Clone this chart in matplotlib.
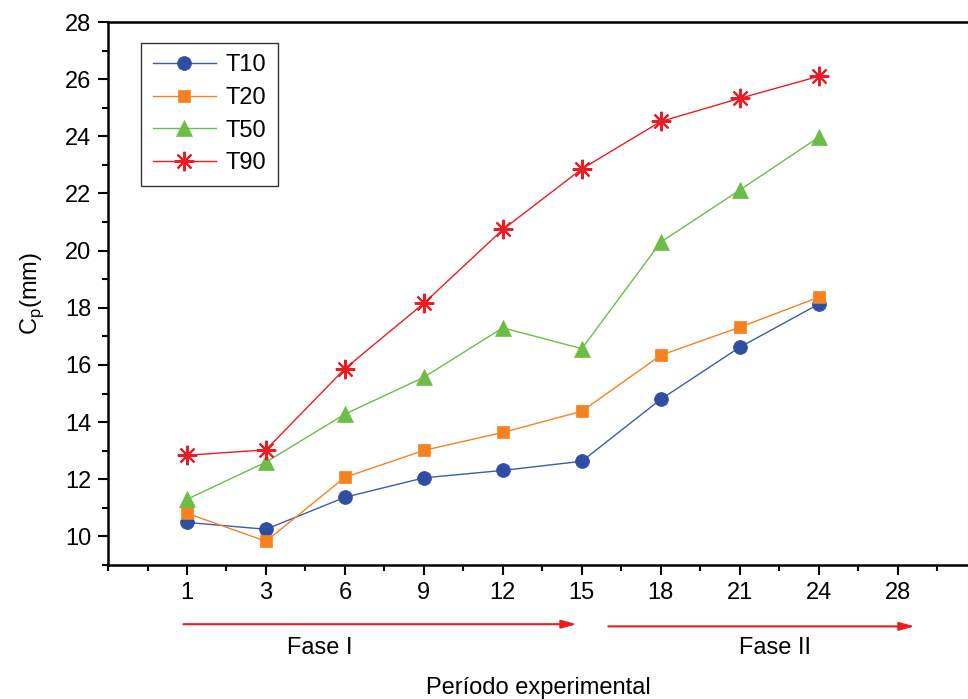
import matplotlib
matplotlib.use('Agg')
import matplotlib.pyplot as plt
from matplotlib.ticker import MultipleLocator

plt.rcParams.update({'font.family': ['Liberation Sans', 'DejaVu Sans']})

# data
periods = ['1', '3', '6', '9', '12', '15', '18', '21', '24', '28']
t10 = [10.49, 10.25, 11.37, 12.05, 12.31, 12.63, 14.80, 16.62, 18.13]
t20 = [10.81, 9.83, 12.07, 13.01, 13.64, 14.38, 16.34, 17.32, 18.37]
t50 = [11.30, 12.60, 14.28, 15.57, 17.30, 16.57, 20.30, 22.12, 23.97]
t90 = [12.84, 13.03, 15.87, 18.16, 20.74, 22.86, 24.52, 25.33, 26.10]
labels = ['T10', 'T20', 'T50', 'T90']

series = [t10, t20, t50, t90]
markers = ['o', 's', '^', (8, 2, 0)]
mcolors = ['#2f4ea3', '#f5821f', '#6cbd45', '#ed1c24']
lcolors = ['#3c5bb0', '#f5821f', '#6cbd45', '#ed1c24']
msizes = [10, 9, 12, 14]

fig = plt.figure(figsize=(9.68, 6.99), dpi=100)
ax = fig.add_axes([0.1116, 0.1917, 0.8884, 0.7768])

xs = list(range(1, len(t10) + 1))
for i, y in enumerate(series):
    ax.plot(xs, y, color=lcolors[i], lw=1.0, marker=markers[i],
            markersize=msizes[i], markerfacecolor=mcolors[i],
            markeredgecolor=mcolors[i], markeredgewidth=1.5 if i == 3 else 0.5,
            label=labels[i])

ax.set_xlim(0, 10.89)
ax.set_ylim(9, 28)
ax.set_xticks(range(1, len(periods) + 1))
ax.set_xticklabels(periods)
ax.xaxis.set_minor_locator(MultipleLocator(0.5))
ax.yaxis.set_minor_locator(MultipleLocator(1))
ax.set_yticks(range(10, 29, 2))
ax.tick_params(which='major', direction='out', length=7, width=1.5, labelsize=17, pad=5)
ax.tick_params(which='minor', direction='out', length=4, width=1.5)
ax.spines['right'].set_visible(False)
for s in ['left', 'bottom', 'top']:
    ax.spines[s].set_linewidth(1.8)

ax.set_ylabel('C$_\\mathregular{p}$(mm)', fontsize=17, labelpad=14)
ax.set_xlabel('Período experimental', fontsize=17, labelpad=53)

# phase arrows
arrow_kw = dict(arrowstyle='-|>,head_length=0.9,head_width=0.25', color='#ed1c24', lw=1.5)
ax.annotate('', xy=(5.97, -0.109), xytext=(0.92, -0.109),
            xycoords=('data', 'axes fraction'), textcoords=('data', 'axes fraction'),
            arrowprops=arrow_kw, annotation_clip=False)
ax.annotate('', xy=(10.25, -0.113), xytext=(6.30, -0.113),
            xycoords=('data', 'axes fraction'), textcoords=('data', 'axes fraction'),
            arrowprops=arrow_kw, annotation_clip=False)
ax.text(2.68, -0.153, 'Fase I', transform=ax.get_xaxis_transform(),
        ha='center', va='center', fontsize=17)
ax.text(8.44, -0.153, 'Fase II', transform=ax.get_xaxis_transform(),
        ha='center', va='center', fontsize=17)

leg = ax.legend(loc='upper left', bbox_to_anchor=(0.038, 0.962), fontsize=17,
                frameon=True, fancybox=False, edgecolor='black',
                handlelength=2.7, borderpad=0.5, labelspacing=0.45,
                handletextpad=0.4, borderaxespad=0)
leg.get_frame().set_linewidth(1.0)

fig.savefig('out.png', dpi=100)
